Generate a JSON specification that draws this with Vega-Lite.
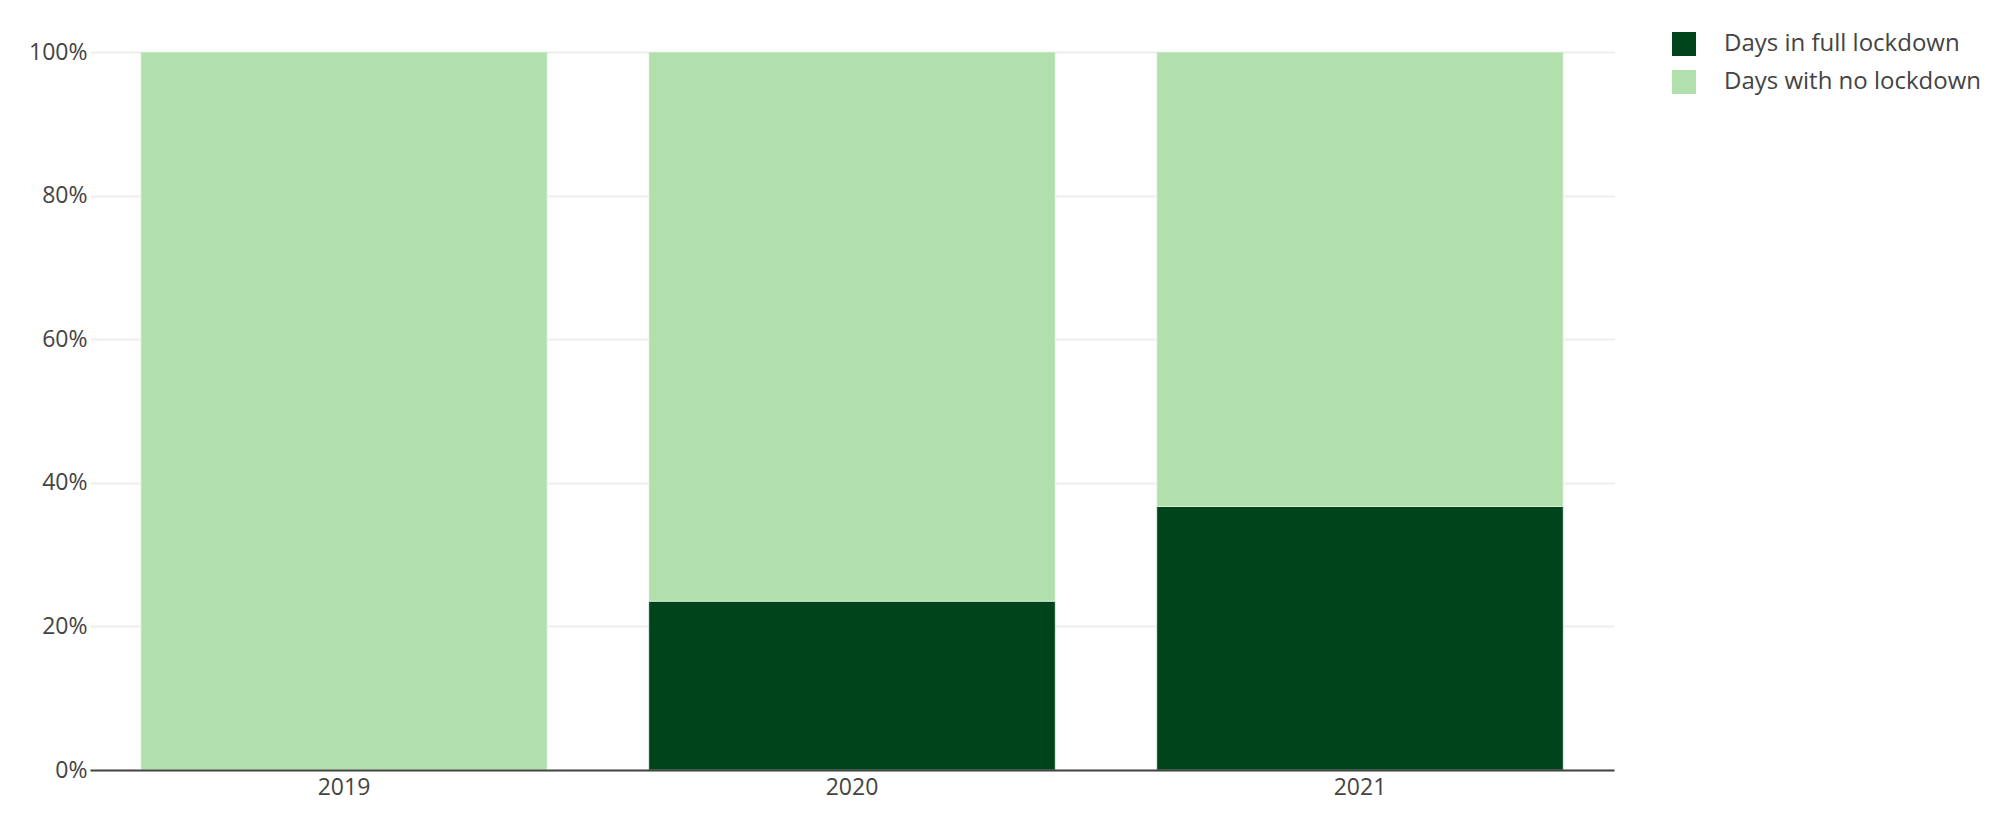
{
  "$schema": "https://vega.github.io/schema/vega-lite/v6.json",
  "width": 1524,
  "height": 718,
  "autosize": {"type": "none"},
  "padding": {"left": 90, "top": 52, "right": 378, "bottom": 54},
  "background": "#ffffff",
  "config": {
    "font": "Open Sans",
    "view": {"stroke": null}
  },
  "data": {
    "values": [
      {"year": "2019", "status": "Days in full lockdown", "share": 0.0},
      {"year": "2019", "status": "Days with no lockdown", "share": 1.0},
      {"year": "2020", "status": "Days in full lockdown", "share": 0.235},
      {"year": "2020", "status": "Days with no lockdown", "share": 0.765},
      {"year": "2021", "status": "Days in full lockdown", "share": 0.367},
      {"year": "2021", "status": "Days with no lockdown", "share": 0.633}
    ]
  },
  "mark": {"type": "bar", "stroke": "#ffffff", "strokeWidth": 0.5},
  "encoding": {
    "x": {
      "field": "year",
      "type": "nominal",
      "title": null,
      "scale": {"paddingInner": 0.2, "paddingOuter": 0.1},
      "axis": {
        "labelAngle": 0,
        "ticks": false,
        "labelFontSize": 23,
        "labelColor": "#444444",
        "labelPadding": 6,
        "domainColor": "#444444",
        "domainWidth": 2,
        "zindex": 1
      }
    },
    "y": {
      "field": "share",
      "type": "quantitative",
      "stack": "zero",
      "title": null,
      "scale": {"domain": [0, 1], "nice": false},
      "axis": {
        "values": [0, 0.2, 0.4, 0.6, 0.8, 1],
        "format": ".0%",
        "ticks": false,
        "domain": false,
        "labelFontSize": 23,
        "labelColor": "#444444",
        "labelPadding": 3,
        "gridColor": "#eeeeee",
        "gridWidth": 2
      }
    },
    "color": {
      "field": "status",
      "type": "nominal",
      "scale": {
        "domain": ["Days in full lockdown", "Days with no lockdown"],
        "range": ["#00441b", "#b2e0ac"]
      },
      "legend": {
        "title": null,
        "orient": "none",
        "legendX": 1582,
        "legendY": -20,
        "symbolType": "square",
        "symbolSize": 576,
        "symbolStrokeWidth": 0,
        "labelFontSize": 24,
        "labelColor": "#444444",
        "labelOffset": 28,
        "labelLimit": 500,
        "rowPadding": 14
      }
    },
    "order": {"field": "status", "type": "nominal"}
  }
}
